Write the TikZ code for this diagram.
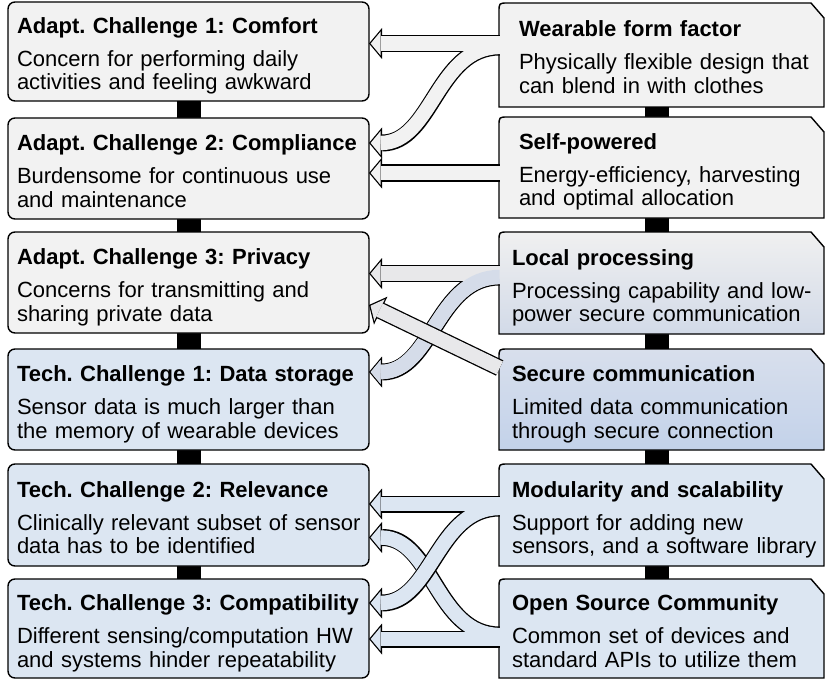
\documentclass[tikz,border=0pt]{standalone}
\usepackage{fontspec}
\setmainfont{Liberation Sans}
\usetikzlibrary{arrows.meta, backgrounds}
\definecolor{adaptGray}{HTML}{F2F2F2}
\definecolor{techBlue}{HTML}{DCE6F2}
\definecolor{procTop}{HTML}{F0F0F0}
\definecolor{procBot}{HTML}{D2DAE8}
\definecolor{secTop}{HTML}{D8DFEC}
\definecolor{secBot}{HTML}{C3D2EA}
\definecolor{procArrow}{HTML}{E8E8EA}
\definecolor{mixArrow}{HTML}{D5DCE9}
\newcommand{\boxfont}{\fontsize{22}{23.5}\selectfont\frenchspacing}
\newcommand{\boxlines}[3]{\mbox{\textbf{#1}}\\[9.5pt]\mbox{#2}\\\mbox{#3}}

\tikzset{
    challenge/.style={draw, line width=1.4pt, rounded corners=7pt, anchor=north west,
        outer sep=0pt, inner xsep=9pt, inner ysep=0pt, text width=343pt, text height=31.5pt,
        text depth=67.5pt, align=left, font=\boxfont},
    feature/.style={anchor=north west, outer sep=0pt, inner xsep=13pt, inner ysep=0pt,
        text width=299pt, text height=31.5pt, text depth=67.5pt, align=left, font=\boxfont},
    featwide/.style={feature, inner xsep=20pt, text width=285pt},
    featgray/.style={fill=adaptGray},
    featproc/.style={top color=procTop, bottom color=procBot},
    featsec/.style={top color=secTop, bottom color=secBot},
    featblue/.style={fill=techBlue},
    spine/.style={line width=24pt},
    arrline/.style={line width=17pt, -{Triangle[length=13pt, width=31pt, line width=0pt 0 0]}},
    arrfill/.style={line width=14.4pt, shorten >=1.7pt, -{Triangle[length=10pt, width=24pt, line width=0pt 0 0]}},
}

\begin{document}
\begin{tikzpicture}[x=1pt, y=-1pt]
    \useasboundingbox (0,0) rectangle (830,682);

    % challenges
    \node[challenge, fill=adaptGray, minimum height=99pt] (ac1) at (8,2)
        {\boxlines{Adapt. Challenge 1: Comfort}{Concern for performing daily}{activities and feeling awkward}};
    \node[challenge, fill=adaptGray, minimum height=101pt] (ac2) at (8,118)
        {\boxlines{Adapt. Challenge 2: Compliance}{Burdensome for continuous use}{and maintenance}};
    \node[challenge, fill=adaptGray, minimum height=101pt] (ac3) at (8,232)
        {\boxlines{Adapt. Challenge 3: Privacy}{Concerns for transmitting and}{sharing private data}};
    \node[challenge, fill=techBlue, minimum height=101pt] (tc1) at (8,349)
        {\boxlines{Tech. Challenge 1: Data storage}{Sensor data is much larger than}{the memory of wearable devices}};
    \node[challenge, fill=techBlue, minimum height=102pt] (tc2) at (8,464)
        {\boxlines{Tech. Challenge 2: Relevance}{Clinically relevant subset of sensor}{data has to be identified}};
    \node[challenge, fill=techBlue, minimum height=99pt] (tc3) at (8,579)
        {\boxlines{Tech. Challenge 3: Compatibility}{Different sensing/computation HW}{and systems hinder repeatability}};

    % features
    \node[featwide, minimum height=104pt] (wf) at (499,3)
        {\boxlines{Wearable form factor}{Physically flexible design that}{can blend in with clothes}};
    \node[featwide, minimum height=101pt] (sp) at (499,117)
        {\boxlines{Self-powered}{Energy-efficiency, harvesting}{and optimal allocation}};
    \node[feature, minimum height=102pt] (lp) at (499,232)
        {\boxlines{Local processing}{Processing capability and low-}{power secure communication}};
    \node[feature, minimum height=101pt] (sc) at (499,349)
        {\boxlines{Secure communication}{Limited data communication}{through secure connection}};
    \node[feature, minimum height=102pt] (ms) at (499,464)
        {\boxlines{Modularity and scalability}{Support for adding new}{sensors, and a software library}};
    \node[feature, minimum height=99pt] (os) at (499,579)
        {\boxlines{Open Source Community}{Common set of devices and}{standard APIs to utilize them}};

    \begin{scope}[on background layer]
        \foreach \a/\b in {ac1/ac2, ac2/ac3, ac3/tc1, tc1/tc2, tc2/tc3}
            \draw[spine] (\a.center) -- (\b.center);
        \foreach \a/\b in {wf/sp, sp/lp, lp/sc, sc/ms, ms/os}
            \draw[spine] ([xshift=-4.5pt]\a.center) -- ([xshift=-4.5pt]\b.center);
        \foreach \n/\s in {wf/featgray, sp/featgray, lp/featproc, sc/featsec, ms/featblue, os/featblue}
            \draw[line width=1.4pt, \s] (\n.south west) -- ([yshift=-9pt]\n.north west)
                .. controls (\n.north west) .. ([xshift=9pt]\n.north west)
                -- ([xshift=-13pt]\n.north east) -- ([yshift=-15pt]\n.north east)
                -- (\n.south east) -- cycle;
    \end{scope}

    % block arrows: outline pass, then fill pass
    \foreach \p/\c in {arrline/black, arrfill/adaptGray} {
        \draw[\p, draw=\c] ([xshift=.7pt, yshift=11.5pt]wf.west) -- ([yshift=8pt]ac1.east);
        \draw[\p, draw=\c] ([xshift=.7pt, yshift=8pt]wf.west) to[out=180, in=0] ([yshift=25.5pt]ac2.east);
    }
    \foreach \p/\c in {arrline/black, arrfill/adaptGray}
        \draw[\p, draw=\c] ([xshift=.7pt, yshift=-5.5pt]sp.west) -- ([yshift=-4.5pt]ac2.east);
    \foreach \p/\c in {arrline/black, arrfill/procArrow} {
        \draw[\p, draw=\c] ([xshift=.7pt, yshift=9.5pt]lp.west) -- ([yshift=9pt]ac3.east);
        \draw[\p, draw=\c] ([xshift=.7pt, yshift=6pt]lp.west) to[out=180, in=0] ([yshift=27.5pt]tc1.east);
    }
    \draw[arrfill, draw=mixArrow] ([xshift=.7pt, yshift=6pt]lp.west) to[out=180, in=0] ([yshift=27.5pt]tc1.east);
    \foreach \p/\c in {arrline/black, arrfill/procArrow}
        \draw[\p, draw=\c] ([xshift=.7pt, yshift=31.5pt]sc.west) -- ([yshift=-22.5pt]ac3.east);
    \foreach \p/\c in {arrline/black, arrfill/techBlue} {
        \draw[\p, draw=\c] ([xshift=.7pt, yshift=-10.5pt]os.west) -- ([yshift=-10.5pt]tc3.east);
        \draw[\p, draw=\c] ([xshift=.7pt, yshift=-6.5pt]os.west) to[out=180, in=0] ([yshift=-22.5pt]tc2.east);
    }
    \foreach \p/\c in {arrline/black, arrfill/techBlue} {
        \draw[\p, draw=\c] ([xshift=.7pt, yshift=11pt]ms.west) -- ([yshift=11pt]tc2.east);
        \draw[\p, draw=\c] ([xshift=.7pt, yshift=7pt]ms.west) to[out=180, in=0] ([yshift=25.5pt]tc3.east);
    }
\end{tikzpicture}
\end{document}
